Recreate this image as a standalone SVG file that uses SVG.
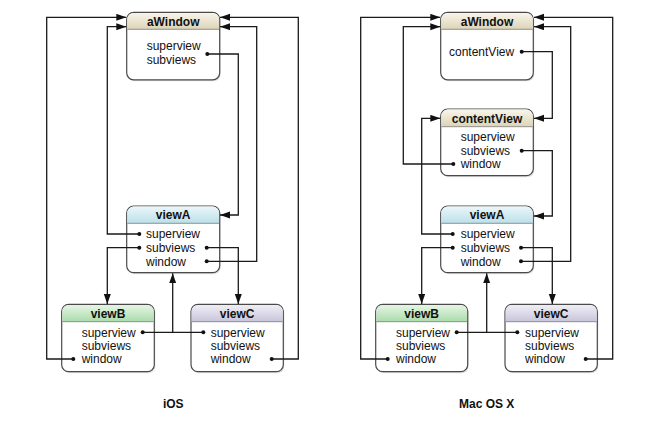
<svg xmlns="http://www.w3.org/2000/svg" width="653" height="421" viewBox="0 0 653 421">
<style>
.box{fill:#fff;stroke:#4a4a4a;stroke-width:1.2}
.shadow{fill:#000;opacity:0.12}
.sep{stroke:#7a7a7a;stroke-width:0.8}
.hd{stroke:none}
.title{font-family:"Liberation Sans",Arial,sans-serif;font-size:12px;font-weight:bold;fill:#111;text-anchor:middle}
.row{font-family:"Liberation Sans",Arial,sans-serif;font-size:12px;fill:#111}
.cap{font-family:"Liberation Sans",Arial,sans-serif;font-size:12px;font-weight:bold;fill:#111;text-anchor:middle}
.ln{fill:none;stroke:#1a1a1a;stroke-width:1.3}
.arr{marker-end:url(#ah)}
.dot{fill:#111}
</style>
<defs>
<marker id="ah" markerUnits="userSpaceOnUse" markerWidth="11" markerHeight="8" refX="10" refY="3.5" orient="auto">
<path d="M0,0 L10,3.5 L0,7 z" fill="#111"/>
</marker>
<linearGradient id="gWin" x1="0" y1="0" x2="0" y2="1"><stop offset="0" stop-color="#f8f5ea"/><stop offset="1" stop-color="#dcd4b6"/></linearGradient>
<linearGradient id="gA" x1="0" y1="0" x2="0" y2="1"><stop offset="0" stop-color="#eaf6fa"/><stop offset="1" stop-color="#bcdfe9"/></linearGradient>
<linearGradient id="gB" x1="0" y1="0" x2="0" y2="1"><stop offset="0" stop-color="#e6f5e4"/><stop offset="1" stop-color="#aadcab"/></linearGradient>
<linearGradient id="gC" x1="0" y1="0" x2="0" y2="1"><stop offset="0" stop-color="#efeef5"/><stop offset="1" stop-color="#c9c4db"/></linearGradient>
</defs>
<rect width="653" height="421" fill="#fff"/>

<!-- iOS nodes -->
<g id="ios-aWindow">
<rect class="shadow" x="127.7" y="13.8" width="93" height="67.5" rx="7"/>
<rect class="box" x="126.7" y="12.3" width="93" height="67.5" rx="7"/>
<path class="hd" fill="url(#gWin)" d="M127.3,29.3 V19.3 A6.4,6.4 0 0 1 133.7,12.9 H212.7 A6.4,6.4 0 0 1 219.1,19.3 V29.3 Z"/>
<line class="sep" x1="127.3" y1="29.3" x2="219.1" y2="29.3"/>
<text class="title" x="173.2" y="25.5">aWindow</text>
<text class="row" x="146.7" y="50">superview</text>
<text class="row" x="146.7" y="63.5">subviews</text>
</g>
<g id="ios-viewA">
<rect class="shadow" x="127.7" y="207.5" width="93" height="66.7" rx="7"/>
<rect class="box" x="126.7" y="206" width="93" height="66.7" rx="7"/>
<path class="hd" fill="url(#gA)" d="M127.3,223.3 V213 A6.4,6.4 0 0 1 133.7,206.6 H212.7 A6.4,6.4 0 0 1 219.1,213 V223.3 Z"/>
<line class="sep" x1="127.3" y1="223.3" x2="219.1" y2="223.3"/>
<text class="title" x="173.2" y="219.3">viewA</text>
<text class="row" x="146" y="238.3">superview</text>
<text class="row" x="146" y="252">subviews</text>
<text class="row" x="146" y="265.6">window</text>
</g>
<g id="ios-viewB">
<rect class="shadow" x="62.7" y="305.8" width="92.6" height="67.4" rx="7"/>
<rect class="box" x="61.7" y="304.3" width="92.6" height="67.4" rx="7"/>
<path class="hd" fill="url(#gB)" d="M62.3,321.7 V311.3 A6.4,6.4 0 0 1 68.7,304.9 H147.3 A6.4,6.4 0 0 1 153.7,311.3 V321.7 Z"/>
<line class="sep" x1="62.3" y1="321.7" x2="153.7" y2="321.7"/>
<text class="title" x="108" y="317.6">viewB</text>
<text class="row" x="81.7" y="336.6">superview</text>
<text class="row" x="81.7" y="350">subviews</text>
<text class="row" x="81.7" y="363.3">window</text>
</g>
<g id="ios-viewC">
<rect class="shadow" x="192" y="305.8" width="92.3" height="67.4" rx="7"/>
<rect class="box" x="191" y="304.3" width="92.3" height="67.4" rx="7"/>
<path class="hd" fill="url(#gC)" d="M191.6,321.7 V311.3 A6.4,6.4 0 0 1 198,304.9 H276.3 A6.4,6.4 0 0 1 282.7,311.3 V321.7 Z"/>
<line class="sep" x1="191.6" y1="321.7" x2="282.7" y2="321.7"/>
<text class="title" x="237.2" y="317.6">viewC</text>
<text class="row" x="210.7" y="336.6">superview</text>
<text class="row" x="210.7" y="350">subviews</text>
<text class="row" x="210.7" y="363.3">window</text>
</g>

<!-- Mac nodes -->
<g id="mac-aWindow">
<rect class="shadow" x="441.7" y="13.8" width="92.6" height="67.5" rx="7"/>
<rect class="box" x="440.7" y="12.3" width="92.6" height="67.5" rx="7"/>
<path class="hd" fill="url(#gWin)" d="M441.3,29.3 V19.3 A6.4,6.4 0 0 1 447.7,12.9 H526.3 A6.4,6.4 0 0 1 532.7,19.3 V29.3 Z"/>
<line class="sep" x1="441.3" y1="29.3" x2="532.7" y2="29.3"/>
<text class="title" x="487" y="25.5">aWindow</text>
<text class="row" x="449" y="56">contentView</text>
</g>
<g id="mac-contentView">
<rect class="shadow" x="441.7" y="110.5" width="92.6" height="66.7" rx="7"/>
<rect class="box" x="440.7" y="109" width="92.6" height="66.7" rx="7"/>
<path class="hd" fill="url(#gWin)" d="M441.3,126.7 V116 A6.4,6.4 0 0 1 447.7,109.6 H526.3 A6.4,6.4 0 0 1 532.7,116 V126.7 Z"/>
<line class="sep" x1="441.3" y1="126.7" x2="532.7" y2="126.7"/>
<text class="title" x="487" y="122.5">contentView</text>
<text class="row" x="460.7" y="141">superview</text>
<text class="row" x="460.7" y="155">subviews</text>
<text class="row" x="460.7" y="168.3">window</text>
</g>
<g id="mac-viewA">
<rect class="shadow" x="441.7" y="207.5" width="92.6" height="66.7" rx="7"/>
<rect class="box" x="440.7" y="206" width="92.6" height="66.7" rx="7"/>
<path class="hd" fill="url(#gA)" d="M441.3,223.3 V213 A6.4,6.4 0 0 1 447.7,206.6 H526.3 A6.4,6.4 0 0 1 532.7,213 V223.3 Z"/>
<line class="sep" x1="441.3" y1="223.3" x2="532.7" y2="223.3"/>
<text class="title" x="487" y="219.3">viewA</text>
<text class="row" x="460.7" y="238.3">superview</text>
<text class="row" x="460.7" y="252">subviews</text>
<text class="row" x="460.7" y="265.6">window</text>
</g>
<g id="mac-viewB">
<rect class="shadow" x="376.7" y="305.8" width="92" height="67.4" rx="7"/>
<rect class="box" x="375.7" y="304.3" width="92" height="67.4" rx="7"/>
<path class="hd" fill="url(#gB)" d="M376.3,321.7 V311.3 A6.4,6.4 0 0 1 382.7,304.9 H460.7 A6.4,6.4 0 0 1 467.1,311.3 V321.7 Z"/>
<line class="sep" x1="376.3" y1="321.7" x2="467.1" y2="321.7"/>
<text class="title" x="421.7" y="317.6">viewB</text>
<text class="row" x="396" y="336.6">superview</text>
<text class="row" x="396" y="350">subviews</text>
<text class="row" x="396" y="363.3">window</text>
</g>
<g id="mac-viewC">
<rect class="shadow" x="506" y="305.8" width="92.3" height="67.4" rx="7"/>
<rect class="box" x="505" y="304.3" width="92.3" height="67.4" rx="7"/>
<path class="hd" fill="url(#gC)" d="M505.6,321.7 V311.3 A6.4,6.4 0 0 1 512,304.9 H590.3 A6.4,6.4 0 0 1 596.7,311.3 V321.7 Z"/>
<line class="sep" x1="505.6" y1="321.7" x2="596.7" y2="321.7"/>
<text class="title" x="551.2" y="317.6">viewC</text>
<text class="row" x="525" y="336.6">superview</text>
<text class="row" x="525" y="350">subviews</text>
<text class="row" x="525" y="363.3">window</text>
</g>

<!-- connectors -->
<g id="connectors">
<path class="ln arr" d="M73.3,359 H46.7 V17.3 H126.3"/>
<path class="ln arr" d="M139.3,234 H107.3 V26.7 H126.3"/>
<path class="ln arr" d="M139.3,247.7 H107.3 V304"/>
<path class="ln arr" d="M207.3,54 H238.3 V215 H220"/>
<path class="ln arr" d="M206.7,247.7 H238.3 V304"/>
<path class="ln arr" d="M206.7,261.3 H256.7 V26.7 H220"/>
<path class="ln arr" d="M271.7,359 H298.3 V17.3 H220"/>
<path class="ln" d="M142.7,332.3 H203.3"/>
<path class="ln arr" d="M172.7,332.3 V273.2"/>
<circle class="dot" cx="73.3" cy="359" r="2"/>
<circle class="dot" cx="139.3" cy="234" r="2"/>
<circle class="dot" cx="139.3" cy="247.7" r="2"/>
<circle class="dot" cx="207.3" cy="54" r="2"/>
<circle class="dot" cx="206.7" cy="247.7" r="2"/>
<circle class="dot" cx="206.7" cy="261.3" r="2"/>
<circle class="dot" cx="271.7" cy="359" r="2"/>
<circle class="dot" cx="142.7" cy="332.3" r="2"/>
<circle class="dot" cx="203.3" cy="332.3" r="2"/>

<path class="ln arr" d="M387.7,359 H360.7 V17.3 H440.3"/>
<path class="ln arr" d="M453.3,164 H403.3 V26.7 H440.3"/>
<path class="ln arr" d="M452.7,234 H421.7 V118.3 H440.3"/>
<path class="ln arr" d="M452.7,247.7 H421.7 V304"/>
<path class="ln arr" d="M521.7,51.7 H552.3 V118.3 H534"/>
<path class="ln arr" d="M521.7,150.7 H552.3 V216 H534"/>
<path class="ln arr" d="M521,247.7 H552.3 V304"/>
<path class="ln arr" d="M521,261.3 H570.7 V26.7 H534"/>
<path class="ln arr" d="M585.7,359 H612.7 V17.3 H534"/>
<path class="ln" d="M456.7,332.3 H517.3"/>
<path class="ln arr" d="M486.7,332.3 V273.2"/>
<circle class="dot" cx="387.7" cy="359" r="2"/>
<circle class="dot" cx="453.3" cy="164" r="2"/>
<circle class="dot" cx="452.7" cy="234" r="2"/>
<circle class="dot" cx="452.7" cy="247.7" r="2"/>
<circle class="dot" cx="521.7" cy="51.7" r="2"/>
<circle class="dot" cx="521.7" cy="150.7" r="2"/>
<circle class="dot" cx="521" cy="247.7" r="2"/>
<circle class="dot" cx="521" cy="261.3" r="2"/>
<circle class="dot" cx="585.7" cy="359" r="2"/>
<circle class="dot" cx="456.7" cy="332.3" r="2"/>
<circle class="dot" cx="517.3" cy="332.3" r="2"/>
</g>

<text class="cap" x="173.3" y="407.5">iOS</text>
<text class="cap" x="486.7" y="407.5">Mac OS X</text>
</svg>
